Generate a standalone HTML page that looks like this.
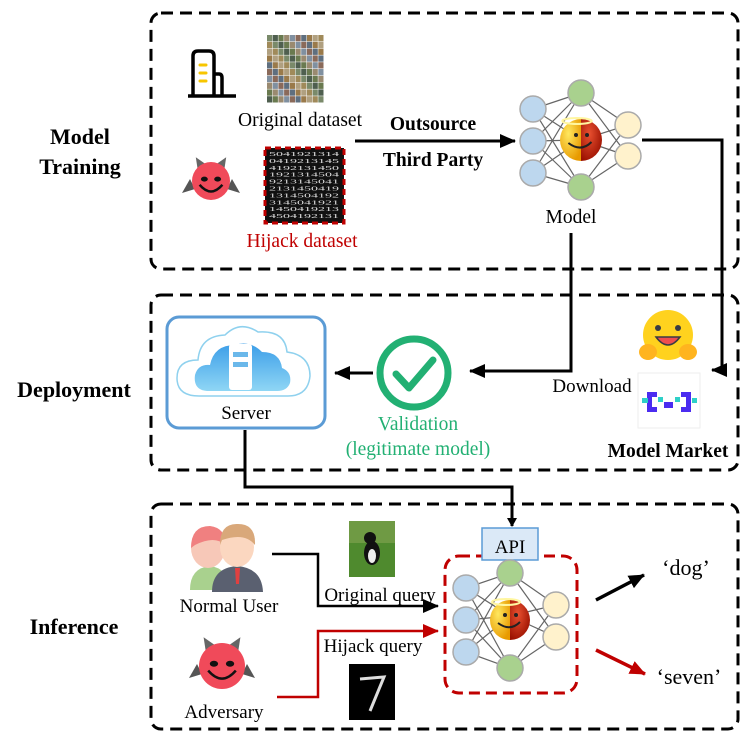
<!DOCTYPE html>
<html><head><meta charset="utf-8"><style>
html,body{margin:0;padding:0;background:#fff}
svg{display:block}
text{font-family:"Liberation Serif",serif}
</style></head><body>
<svg id="s" width="747" height="739" viewBox="0 0 747 739" xmlns="http://www.w3.org/2000/svg">
<defs>
<marker id="ab" markerWidth="9" markerHeight="10" refX="8" refY="5" orient="auto" markerUnits="userSpaceOnUse"><path d="M0,0 L9,5 L0,10 z" fill="#000"/></marker>
<marker id="ab2" markerWidth="16" markerHeight="14" refX="15" refY="7" orient="auto" markerUnits="userSpaceOnUse"><path d="M0,0 L16,7 L0,14 z" fill="#000"/></marker>
<marker id="ar" markerWidth="16" markerHeight="14" refX="15" refY="7" orient="auto" markerUnits="userSpaceOnUse"><path d="M0,0 L16,7 L0,14 z" fill="#c00000"/></marker>
<radialGradient id="em" cx="0.4" cy="0.35" r="0.7"><stop offset="0" stop-color="#ffe860"/><stop offset="1" stop-color="#e89a00"/></radialGradient>
<radialGradient id="em2" cx="0.4" cy="0.35" r="0.7"><stop offset="0" stop-color="#e85030"/><stop offset="1" stop-color="#9a1000"/></radialGradient>
<linearGradient id="cl" x1="0" y1="0" x2="0" y2="1"><stop offset="0" stop-color="#3c9ee8"/><stop offset="1" stop-color="#8fd6f5"/></linearGradient>
</defs>
<g fill="none" stroke="#000" stroke-width="3" stroke-dasharray="12,7">
<rect x="151" y="13" width="587" height="256" rx="10"/>
<rect x="151" y="295" width="587" height="175" rx="10"/>
<rect x="151" y="504" width="587" height="225" rx="10"/>
</g>
<g font-weight="bold" font-size="22" text-anchor="middle">
<text x="80" y="144">Model</text><text x="80" y="174">Training</text>
<text x="74" y="397">Deployment</text>
<text x="74" y="634">Inference</text>
</g>
<g fill="none" stroke="#000" stroke-width="3.5"><path d="M193,96 V56 Q193,51 198,51 H209 Q214,51 214,56 V96"/><path d="M214,74 H219 Q222,74 222,78 V96"/><path d="M188,96 H236"/></g>
<g stroke="#f7c600" stroke-width="3" stroke-linecap="round"><line x1="200" y1="65" x2="206" y2="65"/><line x1="200" y1="73" x2="206" y2="73"/><line x1="200" y1="81" x2="206" y2="81"/></g>
<g id="od"></g>
<text x="300" y="126" font-size="19.5" text-anchor="middle">Original dataset</text>
<rect x="265" y="148" width="79" height="75" fill="#111"/>
<g id="mn" font-family="Liberation Sans" font-size="6" fill="#ddd"></g>
<rect x="265" y="148" width="79" height="75" fill="none" stroke="#c00000" stroke-width="3" stroke-dasharray="6,4"/>
<text x="302" y="247" font-size="19.5" fill="#c00000" text-anchor="middle">Hijack dataset</text>
<g id="dv1"></g>
<text x="433" y="130" font-size="19.5" font-weight="bold" text-anchor="middle">Outsource</text>
<line x1="355" y1="141" x2="515" y2="141" stroke="#000" stroke-width="3" marker-end="url(#ab2)"/>
<text x="433" y="166" font-size="19.5" font-weight="bold" text-anchor="middle">Third Party</text>
<g id="n1"></g>
<text x="571" y="223" font-size="19.5" text-anchor="middle">Model</text>
<g fill="none" stroke="#000" stroke-width="3">
<path d="M642,140 H722 V370 H712" marker-end="url(#ab2)"/>
<path d="M571,233 V371 H470"  marker-end="url(#ab2)"/>
<path d="M373,373 H335" marker-end="url(#ab2)"/>
<path d="M245,430 V487 H512 V526" marker-end="url(#ab)"/>
</g>
<rect x="167" y="317" width="158" height="111" rx="12" fill="#fff" stroke="#5b9bd5" stroke-width="3"/>
<path d="M199,396 Q177,396 177,378 Q177,360 198,360 Q200,336 225,335 Q240,320 258,332 Q285,330 287,352 Q310,355 310,376 Q308,396 288,396 Z" fill="#fff" stroke="#8fd1ee" stroke-width="1.5"/>
<path d="M207,391 Q193,390 195,375 Q198,364 210,365 Q214,345 235,345 Q250,340 262,352 Q280,352 282,368 Q292,372 290,383 Q287,391 277,391 Z" fill="url(#cl)"/>
<rect x="229" y="344" width="23" height="46" rx="3" fill="#fff"/>
<rect x="233" y="352" width="15" height="5" fill="#6bb8ea"/><rect x="233" y="362" width="15" height="5" fill="#6bb8ea"/>
<text x="246" y="419" font-size="19" text-anchor="middle">Server</text>
<circle cx="414" cy="373" r="34" fill="none" stroke="#22b073" stroke-width="7"/>
<path d="M396,374 L409,388 L433,360" fill="none" stroke="#22b073" stroke-width="7" stroke-linecap="round" stroke-linejoin="round"/>
<text x="418" y="430" font-size="19.5" fill="#22b073" text-anchor="middle">Validation</text>
<text x="418" y="455" font-size="19.5" fill="#22b073" text-anchor="middle">(legitimate model)</text>
<text x="592" y="392" font-size="19" text-anchor="middle">Download</text>
<circle cx="668" cy="335" r="25" fill="#ffd21e"/>
<circle cx="658" cy="328" r="3" fill="#3a3b45"/><circle cx="678" cy="328" r="3" fill="#3a3b45"/>
<path d="M656,337 Q668,353 680,337 Z" fill="#ef4e4e" stroke="#3a3b45" stroke-width="1.5"/>
<ellipse cx="648" cy="352" rx="9" ry="8" fill="#ffb41f"/><ellipse cx="688" cy="352" rx="9" ry="8" fill="#ffb41f"/>
<rect x="638" y="373" width="62" height="55" fill="#fff" stroke="#eee"/>
<g fill="#4b2cf0"><rect x="647" y="392" width="5" height="20"/><rect x="647" y="392" width="10" height="5"/><rect x="647" y="407" width="10" height="5"/><rect x="686" y="392" width="5" height="20"/><rect x="681" y="392" width="10" height="5"/><rect x="681" y="407" width="10" height="5"/><rect x="664" y="402" width="9" height="6"/></g>
<g fill="#2ed0c8"><rect x="642" y="398" width="6" height="5"/><rect x="658" y="397" width="5" height="5"/><rect x="675" y="397" width="5" height="5"/><rect x="692" y="398" width="5" height="5"/></g>
<text x="668" y="457" font-size="19.5" font-weight="bold" text-anchor="middle">Model Market</text>
<g id="users"></g>
<text x="229" y="612" font-size="19" text-anchor="middle">Normal User</text>
<g id="dv2"></g>
<text x="224" y="718" font-size="19" text-anchor="middle">Adversary</text>
<rect x="349" y="521" width="46" height="56" fill="#4f8a2e"/>
<rect x="349" y="521" width="46" height="22" fill="#6f9a44"/>
<ellipse cx="372" cy="553" rx="8" ry="12" fill="#111"/><circle cx="370" cy="538" r="6" fill="#111"/><ellipse cx="372" cy="556" rx="4" ry="7" fill="#eee"/>
<text x="380" y="601" font-size="19" text-anchor="middle">Original query</text>
<text x="373" y="652" font-size="19" text-anchor="middle">Hijack query</text>
<rect x="349" y="664" width="46" height="56" fill="#000"/>
<path d="M360,679 L384,677 L370,711" fill="none" stroke="#ddd" stroke-width="3"/>
<g fill="none" stroke-width="2.5">
<path d="M272,554 H318 V606 H438" stroke="#000" marker-end="url(#ab2)"/>
<path d="M277,697 H318 V631 H438" stroke="#c00000" marker-end="url(#ar)"/>
</g>
<rect x="445" y="556" width="132" height="137" rx="14" fill="none" stroke="#c00000" stroke-width="3" stroke-dasharray="11,6"/>
<rect x="482" y="528" width="56" height="32" fill="#dbe9f7" stroke="#5b9bd5" stroke-width="1.5"/>
<text x="510" y="553" font-size="19" text-anchor="middle">API</text>
<g id="n2"></g>
<line x1="596" y1="600" x2="644" y2="575" stroke="#000" stroke-width="3.5" marker-end="url(#ab2)"/>
<line x1="596" y1="650" x2="645" y2="674" stroke="#c00000" stroke-width="3.5" marker-end="url(#ar)"/>
<text x="686" y="575" font-size="22" text-anchor="middle">‘dog’</text>
<text x="689" y="684" font-size="22" text-anchor="middle">‘seven’</text>
</svg>
<script>
var NS="http://www.w3.org/2000/svg";
function el(p,t,a){var e=document.createElementNS(NS,t);for(var k in a)e.setAttribute(k,a[k]);p.appendChild(e);return e;}
function net(g,bx,gx,yx,by,gy,yy,ex,ey,r,er){
  var L=[[bx,by],[gx,gy],[yx,yy]];
  for(var l=0;l<2;l++)for(var i=0;i<L[l][1].length;i++)for(var j=0;j<L[l+1][1].length;j++)
    el(g,"line",{x1:L[l][0],y1:L[l][1][i],x2:L[l+1][0],y2:L[l+1][1][j],stroke:"#666","stroke-width":1.2});
  var cols=[["#bdd7ee"],["#a9d18e"],["#fff2cc"]];
  for(var l=0;l<3;l++)for(var i=0;i<L[l][1].length;i++)el(g,"circle",{cx:L[l][0],cy:L[l][1][i],r:r,fill:cols[l][0],stroke:"#aaa","stroke-width":1.5});
  el(g,"path",{d:"M"+ex+","+(ey-er)+" A"+er+","+er+" 0 0 0 "+ex+","+(ey+er)+" Z",fill:"url(#em)"});
  el(g,"path",{d:"M"+ex+","+(ey-er)+" A"+er+","+er+" 0 0 1 "+ex+","+(ey+er)+" Z",fill:"url(#em2)"});
  el(g,"ellipse",{cx:ex-4,cy:ey-er+2,rx:er*0.7,ry:3,fill:"none",stroke:"#fff6a0","stroke-width":2});
  el(g,"path",{d:"M"+(ex-er*0.6)+","+(ey+3)+" Q"+ex+","+(ey+er*0.6)+" "+(ex+er*0.5)+","+(ey+2),fill:"none",stroke:"#222","stroke-width":2});
  el(g,"circle",{cx:ex-5,cy:ey-5,r:2,fill:"#222"});el(g,"circle",{cx:ex+6,cy:ey-5,r:2,fill:"#222"});
}
net(document.getElementById("n1"),533,581,628,[109,141,173],[93,140,187],[125,156],581,140,13,21);
net(document.getElementById("n2"),466,510,556,[588,620,652],[573,616,668],[605,637],510,620,13,20);
var od=document.getElementById("od"),c=["#7a8a6a","#9a8a70","#5f6f7f","#a08a5a","#6a7a50","#8a6a5a","#b0a080","#4f5f4f","#8090a0","#9a7a4a"];
for(var i=0;i<10;i++)for(var j=0;j<10;j++)el(od,"rect",{x:267+j*5.7,y:35+i*6.8,width:5.2,height:6.3,fill:c[(i*3+j*7)%10]});
var mn=document.getElementById("mn"),s="5041921314";
for(var i=0;i<10;i++){var t=el(mn,"text",{x:269,y:156+i*6.9,textLength:70,lengthAdjust:"spacingAndGlyphs"});t.textContent=(s+s).substr(i,10);}
function devil(g,x,y,r){
  el(g,"path",{d:"M"+(x-r-2)+","+(y-2)+" L"+(x-r-10)+","+(y+12)+" L"+(x-r+3)+","+(y+8)+" Z",fill:"#555"});
  el(g,"path",{d:"M"+(x+r+2)+","+(y-2)+" L"+(x+r+10)+","+(y+12)+" L"+(x+r-3)+","+(y+8)+" Z",fill:"#555"});
  el(g,"path",{d:"M"+(x-r*0.7)+","+(y-r*0.6)+" L"+(x-r*0.8)+","+(y-r*1.25)+" L"+(x-r*0.3)+","+(y-r*0.9)+" Z",fill:"#666"});
  el(g,"path",{d:"M"+(x+r*0.7)+","+(y-r*0.6)+" L"+(x+r*0.8)+","+(y-r*1.25)+" L"+(x+r*0.3)+","+(y-r*0.9)+" Z",fill:"#666"});
  el(g,"circle",{cx:x,cy:y,r:r,fill:"#f04a5a"});
  el(g,"ellipse",{cx:x-r*0.35,cy:y-r*0.1,rx:r*0.18,ry:r*0.13,fill:"#111"});
  el(g,"ellipse",{cx:x+r*0.35,cy:y-r*0.1,rx:r*0.18,ry:r*0.13,fill:"#111"});
  el(g,"path",{d:"M"+(x-r*0.6)+","+(y+r*0.2)+" Q"+x+","+(y+r*0.9)+" "+(x+r*0.6)+","+(y+r*0.2),fill:"none",stroke:"#111","stroke-width":2.5});
}
devil(document.getElementById("dv1"),211,181,19);
devil(document.getElementById("dv2"),222,666,23);
var u=document.getElementById("users");
el(u,"path",{d:"M190,590 Q190,568 210,566 Q228,568 230,590 Z",fill:"#a9d18e"});
el(u,"ellipse",{cx:208,cy:548,rx:17,ry:20,fill:"#f7c8b8"});
el(u,"path",{d:"M191,548 Q191,526 210,526 Q226,528 225,545 Q215,535 195,545 Z",fill:"#f08080"});
el(u,"path",{d:"M212,592 Q212,568 237,566 Q262,568 263,592 Z",fill:"#5a6070"});
el(u,"ellipse",{cx:237,cy:547,rx:17,ry:20,fill:"#fbd7c0"});
el(u,"path",{d:"M220,545 Q220,523 238,524 Q256,524 255,545 Q245,532 222,540 Z",fill:"#d9a87a"});
el(u,"path",{d:"M235,568 L240,568 L239,584 L236,584 Z",fill:"#e04040"});
</script>
</body></html>
